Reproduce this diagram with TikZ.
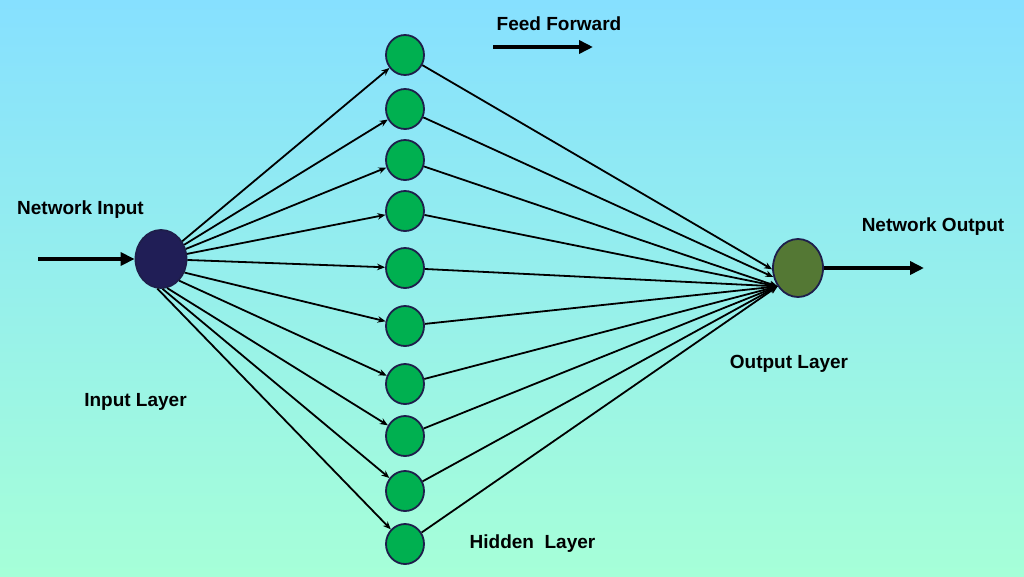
\documentclass[tikz,border=0pt]{standalone}
\usepackage{fontspec}
\setmainfont{Liberation Sans}
\usetikzlibrary{shapes.geometric,arrows.meta}
\definecolor{bgtop}{RGB}{134,224,255}
\definecolor{bgbot}{RGB}{166,255,216}
\definecolor{inblue}{RGB}{32,30,86}
\definecolor{hidgreen}{RGB}{0,176,80}
\definecolor{outgreen}{RGB}{84,120,52}
\definecolor{rim}{RGB}{30,30,75}
\tikzset{
  neuron/.style={ellipse,draw=rim,line width=1.8pt,inner sep=0pt},
  hid/.style={neuron,fill=hidgreen,minimum width=38pt,minimum height=40pt},
  lbl/.style={font=\fontsize{19}{22}\selectfont\bfseries,text=black,inner sep=0pt},
  conn/.style={line width=1.8pt,-{Stealth[length=8pt,width=6.5pt]}},
  bigarrow/.style={line width=4pt,-{Triangle[length=14pt,width=13pt]}}
}
\begin{document}
\begin{tikzpicture}[x=1pt,y=-1pt]
\shade[top color=bgtop,bottom color=bgbot] (0,0) rectangle (1024,576);
\useasboundingbox (0,0) rectangle (1024,576);
% nodes
\node[neuron,fill=inblue,minimum width=51pt,minimum height=58pt] (in) at (161,259) {};
\node[neuron,fill=outgreen,minimum width=50pt,minimum height=58pt] (out) at (798,268) {};
\foreach \i/\y in {1/55,2/109,3/160,4/211,5/268,6/326,7/384,8/436,9/491,10/544}{
  \node[hid] (h\i) at (405,\y) {};
}
% labels
\node[lbl] (tni) at (80.5,210) {Network Input};
\node[lbl] (tno) at (933,227) {Network Output};
\node[lbl] (tff) at (559,24) {Feed Forward};
\node[lbl] (til) at (135.5,402) {Input Layer};
\node[lbl] (thl) at (532.5,544) {Hidden\ \ Layer};
\node[lbl] (tol) at (789,364) {Output Layer};
% big arrows
\coordinate (ins) at (38,259);
\coordinate (oute) at (924,268);
\coordinate (ffs) at (493,47);
\coordinate (ffe) at (593,47);
\draw[bigarrow] (ins) -- (in.west);
\draw[bigarrow] (out.east) -- (oute);
\draw[bigarrow] (ffs) -- (ffe);
% connections
\foreach \i in {1,...,5}{
  \draw[conn] (in) -- (h\i);
}
\draw[conn] (in.330) -- (h6);
\draw[conn] (in.310) -- (h7);
\draw[conn] (in.282) -- (h8);
\draw[conn] (in.273) -- (h9);
\draw[conn] (in.263) -- (h10);
\draw[conn] (h1) -- (out.183);
\draw[conn] (h2) -- (out.200);
\foreach \i in {3,...,10}{
  \draw[conn] (h\i) -- (out.222);
}
\end{tikzpicture}
\end{document}
